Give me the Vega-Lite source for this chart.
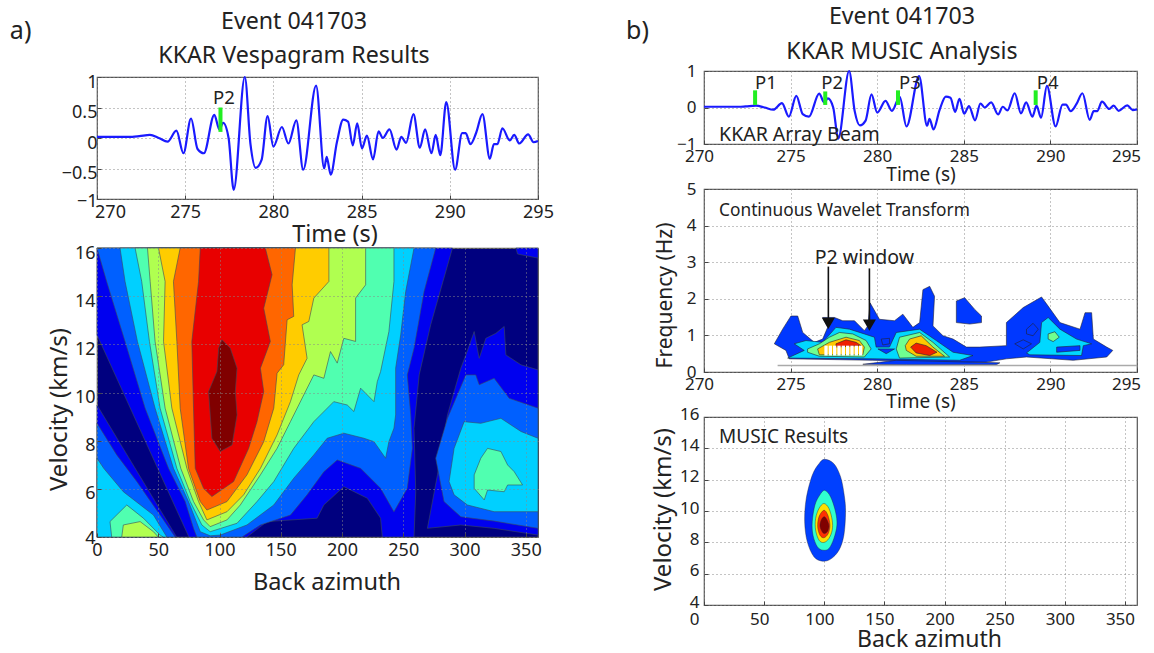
{"$schema":"https://vega.github.io/schema/vega-lite/v6.json","background":"white","padding":{"left":9,"top":4,"right":4,"bottom":4},
"config":{"font":"Noto Sans","view":{"stroke":"#555","strokeWidth":1.2},"title":{"font":"Noto Sans","fontWeight":"normal","color":"#222"},"axis":{"grid":true,"gridDash":[1,3],"gridColor":"#888","tickColor":"#444","tickSize":-4,"labelPadding":8,"domain":false,"labelFontSize":17,"labelColor":"#222","labelFont":"Noto Sans","titleFont":"Noto Sans","titleFontWeight":"normal","titleColor":"#222","labelOverlap":false,"labelBound":false,"labelFlush":false,"format":"~f"}},
"datasets":{
"beam":[{"i":0,"x":270,"y":0.02},{"i":1,"x":272,"y":0.02},{"i":2,"x":272.4,"y":0.03},{"i":3,"x":273,"y":0.05},{"i":4,"x":273.5,"y":0},{"i":5,"x":274,"y":-0.06},{"i":6,"x":274.5,"y":0.12},{"i":7,"x":274.9,"y":-0.25},{"i":8,"x":275.33,"y":0.32},{"i":9,"x":275.7,"y":-0.18},{"i":10,"x":276.06,"y":-0.25},{"i":11,"x":276.65,"y":0.38},{"i":12,"x":276.94,"y":0.14},{"i":13,"x":277.15,"y":0.25},{"i":14,"x":277.46,"y":0},{"i":15,"x":277.75,"y":-0.85},{"i":16,"x":278.38,"y":1},{"i":17,"x":278.7,"y":-0.1},{"i":18,"x":279,"y":-0.49},{"i":19,"x":279.33,"y":-0.36},{"i":20,"x":279.67,"y":0.36},{"i":21,"x":280,"y":-0.14},{"i":22,"x":280.48,"y":0.18},{"i":23,"x":280.85,"y":-0.09},{"i":24,"x":281.3,"y":0.29},{"i":25,"x":281.69,"y":-0.52},{"i":26,"x":282.42,"y":0.86},{"i":27,"x":282.88,"y":-0.5},{"i":28,"x":283.02,"y":-0.31},{"i":29,"x":283.25,"y":-0.6},{"i":30,"x":283.6,"y":-0.07},{"i":31,"x":283.96,"y":0.3},{"i":32,"x":284.23,"y":0.27},{"i":33,"x":284.5,"y":-0.12},{"i":34,"x":284.75,"y":0.24},{"i":35,"x":285.02,"y":-0.17},{"i":36,"x":285.3,"y":0.04},{"i":37,"x":285.65,"y":-0.35},{"i":38,"x":285.96,"y":0.11},{"i":39,"x":286.2,"y":0},{"i":40,"x":286.58,"y":0.14},{"i":41,"x":286.98,"y":-0.19},{"i":42,"x":287.25,"y":0.02},{"i":43,"x":287.52,"y":-0.08},{"i":44,"x":287.94,"y":0.39},{"i":45,"x":288.3,"y":-0.16},{"i":46,"x":288.6,"y":0.14},{"i":47,"x":288.96,"y":-0.25},{"i":48,"x":289.2,"y":0.05},{"i":49,"x":289.46,"y":-0.28},{"i":50,"x":289.8,"y":0.59},{"i":51,"x":290.3,"y":-0.52},{"i":52,"x":290.7,"y":0.08},{"i":53,"x":290.9,"y":0.08},{"i":54,"x":291.17,"y":-0.1},{"i":55,"x":291.5,"y":0.09},{"i":56,"x":291.85,"y":0.39},{"i":57,"x":292.27,"y":-0.34},{"i":58,"x":292.5,"y":-0.1},{"i":59,"x":292.7,"y":-0.1},{"i":60,"x":292.98,"y":0.16},{"i":61,"x":293.4,"y":-0.04},{"i":62,"x":293.65,"y":0.05},{"i":63,"x":293.94,"y":-0.09},{"i":64,"x":294.44,"y":0.06},{"i":65,"x":294.75,"y":-0.07},{"i":66,"x":295,"y":-0.05}],
"vesp":[
{"p":"b1","l":"1","i":0,"x":0,"y":16},{"p":"b1","l":"1","i":1,"x":0,"y":12.39},{"p":"b1","l":"1","i":2,"x":75,"y":4},{"p":"b1","l":"1","i":3,"x":122.4,"y":4},{"p":"b1","l":"1","i":4,"x":138.8,"y":4.64},{"p":"b1","l":"1","i":5,"x":179.7,"y":4.78},{"p":"b1","l":"1","i":6,"x":185.2,"y":5.33},{"p":"b1","l":"1","i":7,"x":201.5,"y":6.09},{"p":"b1","l":"1","i":8,"x":220.6,"y":5.61},{"p":"b1","l":"1","i":9,"x":231.5,"y":4.78},{"p":"b1","l":"1","i":10,"x":232.9,"y":4},{"p":"b1","l":"1","i":11,"x":258.8,"y":4},{"p":"b1","l":"1","i":12,"x":260.2,"y":5.88},{"p":"b1","l":"1","i":13,"x":258.8,"y":8.52},{"p":"b1","l":"1","i":14,"x":263,"y":10.73},{"p":"b1","l":"1","i":15,"x":272.4,"y":12.81},{"p":"b1","l":"1","i":16,"x":290.2,"y":16},
{"p":"b2","l":"1","i":0,"x":269.7,"y":4.36},{"p":"b2","l":"1","i":1,"x":277.9,"y":6.58},{"p":"b2","l":"1","i":2,"x":286.1,"y":9.07},{"p":"b2","l":"1","i":3,"x":297,"y":11.01},{"p":"b2","l":"1","i":4,"x":301.1,"y":11.56},{"p":"b2","l":"1","i":5,"x":307.9,"y":12.53},{"p":"b2","l":"1","i":6,"x":312,"y":11.42},{"p":"b2","l":"1","i":7,"x":317.4,"y":12.25},{"p":"b2","l":"1","i":8,"x":325.6,"y":12.46},{"p":"b2","l":"1","i":9,"x":332.4,"y":12.74},{"p":"b2","l":"1","i":10,"x":333.8,"y":11.56},{"p":"b2","l":"1","i":11,"x":346.1,"y":11.15},{"p":"b2","l":"1","i":12,"x":360,"y":10.94},{"p":"b2","l":"1","i":13,"x":360,"y":4.08},{"p":"b2","l":"1","i":14,"x":324.2,"y":4.36},{"p":"b2","l":"1","i":15,"x":297,"y":4.5},
{"p":"b3","l":"1","i":0,"x":342,"y":16},{"p":"b3","l":"1","i":1,"x":360,"y":16},{"p":"b3","l":"1","i":2,"x":360,"y":15.58},{"p":"b3","l":"1","i":3,"x":343.3,"y":15.75},
{"p":"b4","l":"1","i":0,"x":0,"y":9.48},{"p":"b4","l":"1","i":1,"x":65,"y":4},{"p":"b4","l":"1","i":2,"x":0,"y":4},
{"p":"a1","l":"2","i":0,"x":0,"y":16},{"p":"a1","l":"2","i":1,"x":7.9,"y":14.61},{"p":"a1","l":"2","i":2,"x":22.9,"y":12.12},{"p":"a1","l":"2","i":3,"x":39.3,"y":9.35},{"p":"a1","l":"2","i":4,"x":58.4,"y":6.85},{"p":"a1","l":"2","i":5,"x":72,"y":5.47},{"p":"a1","l":"2","i":6,"x":78.8,"y":4.36},{"p":"a1","l":"2","i":7,"x":81.5,"y":4},{"p":"a1","l":"2","i":8,"x":118.4,"y":4},{"p":"a1","l":"2","i":9,"x":133.4,"y":4.5},{"p":"a1","l":"2","i":10,"x":157.9,"y":4.91},{"p":"a1","l":"2","i":11,"x":171.5,"y":5.75},{"p":"a1","l":"2","i":12,"x":185.2,"y":6.71},{"p":"a1","l":"2","i":13,"x":196.1,"y":7.2},{"p":"a1","l":"2","i":14,"x":215.2,"y":6.85},{"p":"a1","l":"2","i":15,"x":231.5,"y":6.02},{"p":"a1","l":"2","i":16,"x":242.4,"y":5.05},{"p":"a1","l":"2","i":17,"x":253.3,"y":6.02},{"p":"a1","l":"2","i":18,"x":257.4,"y":7.68},{"p":"a1","l":"2","i":19,"x":256.1,"y":9.07},{"p":"a1","l":"2","i":20,"x":253.3,"y":10.73},{"p":"a1","l":"2","i":21,"x":258.8,"y":11.84},{"p":"a1","l":"2","i":22,"x":267,"y":14.19},{"p":"a1","l":"2","i":23,"x":276.5,"y":16},
{"p":"a2","l":"2","i":0,"x":0,"y":8.72},{"p":"a2","l":"2","i":1,"x":16.1,"y":7.41},{"p":"a2","l":"2","i":2,"x":32.5,"y":6.3},{"p":"a2","l":"2","i":3,"x":51.5,"y":4.91},{"p":"a2","l":"2","i":4,"x":63.8,"y":4},{"p":"a2","l":"2","i":5,"x":0,"y":4},
{"p":"a3","l":"2","i":0,"x":276.5,"y":7.27},{"p":"a3","l":"2","i":1,"x":286.1,"y":8.93},{"p":"a3","l":"2","i":2,"x":301.1,"y":10.73},{"p":"a3","l":"2","i":3,"x":309.2,"y":10.73},{"p":"a3","l":"2","i":4,"x":312,"y":10.32},{"p":"a3","l":"2","i":5,"x":324.2,"y":10.59},{"p":"a3","l":"2","i":6,"x":336.5,"y":9.76},{"p":"a3","l":"2","i":7,"x":360,"y":9.35},{"p":"a3","l":"2","i":8,"x":360,"y":4.36},{"p":"a3","l":"2","i":9,"x":324.2,"y":4.66},{"p":"a3","l":"2","i":10,"x":297,"y":4.84},{"p":"a3","l":"2","i":11,"x":283.3,"y":5.47},
{"p":"c1","l":"3","i":0,"x":18.8,"y":16},{"p":"c1","l":"3","i":1,"x":22.9,"y":14.61},{"p":"c1","l":"3","i":2,"x":33,"y":12.12},{"p":"c1","l":"3","i":3,"x":47.4,"y":9.35},{"p":"c1","l":"3","i":4,"x":62.4,"y":6.85},{"p":"c1","l":"3","i":5,"x":74.7,"y":5.47},{"p":"c1","l":"3","i":6,"x":84.3,"y":4.22},{"p":"c1","l":"3","i":7,"x":92.4,"y":4.05},{"p":"c1","l":"3","i":8,"x":100.6,"y":4.08},{"p":"c1","l":"3","i":9,"x":122.4,"y":4.5},{"p":"c1","l":"3","i":10,"x":144.3,"y":5.33},{"p":"c1","l":"3","i":11,"x":160.6,"y":6.44},{"p":"c1","l":"3","i":12,"x":177,"y":7.41},{"p":"c1","l":"3","i":13,"x":187.9,"y":8.1},{"p":"c1","l":"3","i":14,"x":201.5,"y":8.31},{"p":"c1","l":"3","i":15,"x":217.9,"y":8.1},{"p":"c1","l":"3","i":16,"x":226.1,"y":7.96},{"p":"c1","l":"3","i":17,"x":235.6,"y":7.27},{"p":"c1","l":"3","i":18,"x":238.3,"y":7.96},{"p":"c1","l":"3","i":19,"x":242.4,"y":8.52},{"p":"c1","l":"3","i":20,"x":243.8,"y":9.07},{"p":"c1","l":"3","i":21,"x":243.8,"y":11.01},{"p":"c1","l":"3","i":22,"x":247.9,"y":12.39},{"p":"c1","l":"3","i":23,"x":252,"y":14.19},{"p":"c1","l":"3","i":24,"x":258.8,"y":16},
{"p":"c2","l":"3","i":0,"x":0,"y":7.27},{"p":"c2","l":"3","i":1,"x":5.5,"y":6.85},{"p":"c2","l":"3","i":2,"x":21.5,"y":5.88},{"p":"c2","l":"3","i":3,"x":46.1,"y":4.91},{"p":"c2","l":"3","i":4,"x":57,"y":4},{"p":"c2","l":"3","i":5,"x":0,"y":4},
{"p":"c3","l":"3","i":0,"x":287.4,"y":6.3},{"p":"c3","l":"3","i":1,"x":291.5,"y":7.68},{"p":"c3","l":"3","i":2,"x":299.7,"y":8.79},{"p":"c3","l":"3","i":3,"x":313.3,"y":8.72},{"p":"c3","l":"3","i":4,"x":329.7,"y":8.93},{"p":"c3","l":"3","i":5,"x":346.1,"y":8.38},{"p":"c3","l":"3","i":6,"x":360,"y":8.1},{"p":"c3","l":"3","i":7,"x":360,"y":5.05},{"p":"c3","l":"3","i":8,"x":324.2,"y":5.05},{"p":"c3","l":"3","i":9,"x":302.4,"y":5.33},{"p":"c3","l":"3","i":10,"x":291.5,"y":5.75},
{"p":"q1","l":"4","i":0,"x":31.1,"y":16},{"p":"q1","l":"4","i":1,"x":36.5,"y":14.61},{"p":"q1","l":"4","i":2,"x":42.8,"y":12.12},{"p":"q1","l":"4","i":3,"x":51.5,"y":9.35},{"p":"q1","l":"4","i":4,"x":65.2,"y":6.85},{"p":"q1","l":"4","i":5,"x":76.1,"y":5.47},{"p":"q1","l":"4","i":6,"x":85.6,"y":4.5},{"p":"q1","l":"4","i":7,"x":92.4,"y":4.22},{"p":"q1","l":"4","i":8,"x":114.3,"y":4.57},{"p":"q1","l":"4","i":9,"x":130.6,"y":5.47},{"p":"q1","l":"4","i":10,"x":144.3,"y":6.3},{"p":"q1","l":"4","i":11,"x":160.6,"y":7.68},{"p":"q1","l":"4","i":12,"x":177,"y":8.79},{"p":"q1","l":"4","i":13,"x":193.3,"y":9.62},{"p":"q1","l":"4","i":14,"x":204.3,"y":9.48},{"p":"q1","l":"4","i":15,"x":209.7,"y":9.21},{"p":"q1","l":"4","i":16,"x":215.2,"y":10.18},{"p":"q1","l":"4","i":17,"x":226.1,"y":9.62},{"p":"q1","l":"4","i":18,"x":228.8,"y":10.45},{"p":"q1","l":"4","i":19,"x":231.5,"y":10.87},{"p":"q1","l":"4","i":20,"x":238.3,"y":12.53},{"p":"q1","l":"4","i":21,"x":242.4,"y":14.61},{"p":"q1","l":"4","i":22,"x":242.4,"y":16},
{"p":"q2","l":"4","i":0,"x":10.6,"y":4.64},{"p":"q2","l":"4","i":1,"x":24.3,"y":5.33},{"p":"q2","l":"4","i":2,"x":37.9,"y":4.78},{"p":"q2","l":"4","i":3,"x":51.5,"y":4.08},{"p":"q2","l":"4","i":4,"x":54,"y":4},{"p":"q2","l":"4","i":5,"x":12,"y":4},
{"p":"q3","l":"4","i":0,"x":307.9,"y":6.58},{"p":"q3","l":"4","i":1,"x":313.3,"y":7.27},{"p":"q3","l":"4","i":2,"x":318.8,"y":7.68},{"p":"q3","l":"4","i":3,"x":329.7,"y":7.55},{"p":"q3","l":"4","i":4,"x":335.2,"y":6.99},{"p":"q3","l":"4","i":5,"x":340.6,"y":6.71},{"p":"q3","l":"4","i":6,"x":347.4,"y":6.16},{"p":"q3","l":"4","i":7,"x":335.2,"y":6.16},{"p":"q3","l":"4","i":8,"x":332.4,"y":5.88},{"p":"q3","l":"4","i":9,"x":318.8,"y":5.95},{"p":"q3","l":"4","i":10,"x":316.1,"y":5.54},{"p":"q3","l":"4","i":11,"x":307.9,"y":6.02},
{"p":"g1","l":"5","i":0,"x":41.2,"y":16},{"p":"g1","l":"5","i":1,"x":43.4,"y":14.61},{"p":"g1","l":"5","i":2,"x":47.4,"y":12.12},{"p":"g1","l":"5","i":3,"x":55.6,"y":9.35},{"p":"g1","l":"5","i":4,"x":68.4,"y":6.85},{"p":"g1","l":"5","i":5,"x":78.8,"y":5.47},{"p":"g1","l":"5","i":6,"x":87,"y":4.71},{"p":"g1","l":"5","i":7,"x":92.4,"y":4.43},{"p":"g1","l":"5","i":8,"x":106.1,"y":4.71},{"p":"g1","l":"5","i":9,"x":117,"y":5.33},{"p":"g1","l":"5","i":10,"x":133.4,"y":6.58},{"p":"g1","l":"5","i":11,"x":147,"y":7.68},{"p":"g1","l":"5","i":12,"x":157.9,"y":8.79},{"p":"g1","l":"5","i":13,"x":168.8,"y":9.9},{"p":"g1","l":"5","i":14,"x":177,"y":10.73},{"p":"g1","l":"5","i":15,"x":185.2,"y":10.59},{"p":"g1","l":"5","i":16,"x":190.6,"y":11.7},{"p":"g1","l":"5","i":17,"x":196.1,"y":11.22},{"p":"g1","l":"5","i":18,"x":201.5,"y":12.25},{"p":"g1","l":"5","i":19,"x":211.1,"y":12.12},{"p":"g1","l":"5","i":20,"x":211.1,"y":13.92},{"p":"g1","l":"5","i":21,"x":219.3,"y":14.47},{"p":"g1","l":"5","i":22,"x":219.3,"y":16},
{"p":"g2","l":"5","i":0,"x":20.2,"y":4},{"p":"g2","l":"5","i":1,"x":21.5,"y":4.5},{"p":"g2","l":"5","i":2,"x":35.2,"y":4.64},{"p":"g2","l":"5","i":3,"x":46.1,"y":4.22},{"p":"g2","l":"5","i":4,"x":50,"y":4},
{"p":"y1","l":"6","i":0,"x":50.2,"y":16},{"p":"y1","l":"6","i":1,"x":55.6,"y":14.61},{"p":"y1","l":"6","i":2,"x":54.3,"y":12.12},{"p":"y1","l":"6","i":3,"x":61.1,"y":9.35},{"p":"y1","l":"6","i":4,"x":73.4,"y":6.85},{"p":"y1","l":"6","i":5,"x":82.9,"y":5.47},{"p":"y1","l":"6","i":6,"x":89.7,"y":4.71},{"p":"y1","l":"6","i":7,"x":106.1,"y":5.05},{"p":"y1","l":"6","i":8,"x":119.7,"y":5.75},{"p":"y1","l":"6","i":9,"x":133.4,"y":6.85},{"p":"y1","l":"6","i":10,"x":147,"y":8.24},{"p":"y1","l":"6","i":11,"x":157.9,"y":9.62},{"p":"y1","l":"6","i":12,"x":164.7,"y":10.73},{"p":"y1","l":"6","i":13,"x":171.5,"y":11.42},{"p":"y1","l":"6","i":14,"x":167.4,"y":12.81},{"p":"y1","l":"6","i":15,"x":172.9,"y":12.95},{"p":"y1","l":"6","i":16,"x":177,"y":13.92},{"p":"y1","l":"6","i":17,"x":189.3,"y":14.61},{"p":"y1","l":"6","i":18,"x":189.3,"y":16},
{"p":"o1","l":"7","i":0,"x":67.9,"y":16},{"p":"o1","l":"7","i":1,"x":62.4,"y":14.61},{"p":"o1","l":"7","i":2,"x":65.2,"y":12.12},{"p":"o1","l":"7","i":3,"x":67.9,"y":9.35},{"p":"o1","l":"7","i":4,"x":74.7,"y":6.85},{"p":"o1","l":"7","i":5,"x":84.3,"y":5.47},{"p":"o1","l":"7","i":6,"x":89.7,"y":5.12},{"p":"o1","l":"7","i":7,"x":106.1,"y":5.47},{"p":"o1","l":"7","i":8,"x":122.4,"y":6.58},{"p":"o1","l":"7","i":9,"x":136.1,"y":7.96},{"p":"o1","l":"7","i":10,"x":144.3,"y":9.35},{"p":"o1","l":"7","i":11,"x":147,"y":10.8},{"p":"o1","l":"7","i":12,"x":152.4,"y":11.15},{"p":"o1","l":"7","i":13,"x":155.2,"y":13.02},{"p":"o1","l":"7","i":14,"x":160.6,"y":13.16},{"p":"o1","l":"7","i":15,"x":159.3,"y":14.47},{"p":"o1","l":"7","i":16,"x":162,"y":16},
{"p":"r1","l":"8","i":0,"x":84.3,"y":16},{"p":"r1","l":"8","i":1,"x":82.9,"y":14.61},{"p":"r1","l":"8","i":2,"x":77.4,"y":12.12},{"p":"r1","l":"8","i":3,"x":78.8,"y":9.35},{"p":"r1","l":"8","i":4,"x":80.2,"y":6.85},{"p":"r1","l":"8","i":5,"x":87,"y":6.02},{"p":"r1","l":"8","i":6,"x":93.8,"y":5.68},{"p":"r1","l":"8","i":7,"x":111.5,"y":6.3},{"p":"r1","l":"8","i":8,"x":123.8,"y":7.68},{"p":"r1","l":"8","i":9,"x":130.6,"y":8.79},{"p":"r1","l":"8","i":10,"x":136.1,"y":10.04},{"p":"r1","l":"8","i":11,"x":133.4,"y":11.01},{"p":"r1","l":"8","i":12,"x":141.5,"y":12.12},{"p":"r1","l":"8","i":13,"x":136.1,"y":13.5},{"p":"r1","l":"8","i":14,"x":142.9,"y":14.89},{"p":"r1","l":"8","i":15,"x":137.4,"y":16},
{"p":"d1","l":"9","i":0,"x":102,"y":12.19},{"p":"d1","l":"9","i":1,"x":108.8,"y":11.84},{"p":"d1","l":"9","i":2,"x":114.3,"y":11.01},{"p":"d1","l":"9","i":3,"x":112.9,"y":10.04},{"p":"d1","l":"9","i":4,"x":114.3,"y":9.07},{"p":"d1","l":"9","i":5,"x":110.2,"y":7.82},{"p":"d1","l":"9","i":6,"x":100.6,"y":7.55},{"p":"d1","l":"9","i":7,"x":93.8,"y":8.1},{"p":"d1","l":"9","i":8,"x":91.1,"y":10.04},{"p":"d1","l":"9","i":9,"x":97.9,"y":10.87},{"p":"d1","l":"9","i":10,"x":99.3,"y":11.84}],
"wave":[
{"p":"b1","l":"1","i":0,"x":274.06,"y":0.77},{"p":"b1","l":"1","i":1,"x":274.54,"y":1.17},{"p":"b1","l":"1","i":2,"x":275.02,"y":1.53},{"p":"b1","l":"1","i":3,"x":275.41,"y":1.53},{"p":"b1","l":"1","i":4,"x":275.7,"y":1.08},{"p":"b1","l":"1","i":5,"x":276.37,"y":0.81},{"p":"b1","l":"1","i":6,"x":276.85,"y":0.9},{"p":"b1","l":"1","i":7,"x":277.14,"y":1.22},{"p":"b1","l":"1","i":8,"x":276.85,"y":1.49},{"p":"b1","l":"1","i":9,"x":277.53,"y":1.49},{"p":"b1","l":"1","i":10,"x":278.01,"y":1.4},{"p":"b1","l":"1","i":11,"x":278.69,"y":1.4},{"p":"b1","l":"1","i":12,"x":279.26,"y":1.13},{"p":"b1","l":"1","i":13,"x":279.46,"y":1.26},{"p":"b1","l":"1","i":14,"x":279.59,"y":1.89},{"p":"b1","l":"1","i":15,"x":280.13,"y":1.44},{"p":"b1","l":"1","i":16,"x":281,"y":1.4},{"p":"b1","l":"1","i":17,"x":281.48,"y":1.58},{"p":"b1","l":"1","i":18,"x":282.06,"y":1.22},{"p":"b1","l":"1","i":19,"x":282.45,"y":1.35},{"p":"b1","l":"1","i":20,"x":282.64,"y":2.25},{"p":"b1","l":"1","i":21,"x":283.03,"y":2.34},{"p":"b1","l":"1","i":22,"x":283.31,"y":2.07},{"p":"b1","l":"1","i":23,"x":283.22,"y":1.26},{"p":"b1","l":"1","i":24,"x":283.8,"y":0.99},{"p":"b1","l":"1","i":25,"x":284.38,"y":0.9},{"p":"b1","l":"1","i":26,"x":285.15,"y":0.68},{"p":"b1","l":"1","i":27,"x":285.92,"y":0.68},{"p":"b1","l":"1","i":28,"x":287.46,"y":0.72},{"p":"b1","l":"1","i":29,"x":287.46,"y":1.35},{"p":"b1","l":"1","i":30,"x":288.43,"y":1.76},{"p":"b1","l":"1","i":31,"x":289.49,"y":2.05},{"p":"b1","l":"1","i":32,"x":289.87,"y":1.8},{"p":"b1","l":"1","i":33,"x":290.55,"y":1.35},{"p":"b1","l":"1","i":34,"x":291.71,"y":1.17},{"p":"b1","l":"1","i":35,"x":292,"y":1.62},{"p":"b1","l":"1","i":36,"x":292.38,"y":1.62},{"p":"b1","l":"1","i":37,"x":292.48,"y":0.9},{"p":"b1","l":"1","i":38,"x":293.25,"y":0.68},{"p":"b1","l":"1","i":39,"x":293.6,"y":0.59},{"p":"b1","l":"1","i":40,"x":293.25,"y":0.41},{"p":"b1","l":"1","i":41,"x":291.32,"y":0.32},{"p":"b1","l":"1","i":42,"x":288.62,"y":0.41},{"p":"b1","l":"1","i":43,"x":287.46,"y":0.36},{"p":"b1","l":"1","i":44,"x":286.3,"y":0.27},{"p":"b1","l":"1","i":45,"x":283.6,"y":0.27},{"p":"b1","l":"1","i":46,"x":279.75,"y":0.32},{"p":"b1","l":"1","i":47,"x":274.92,"y":0.36},{"p":"b1","l":"1","i":48,"x":274.73,"y":0.59},
{"p":"b2","l":"1","i":0,"x":284.57,"y":1.94},{"p":"b2","l":"1","i":1,"x":285.05,"y":2.03},{"p":"b2","l":"1","i":2,"x":285.63,"y":1.71},{"p":"b2","l":"1","i":3,"x":286.02,"y":1.53},{"p":"b2","l":"1","i":4,"x":286.02,"y":1.35},{"p":"b2","l":"1","i":5,"x":285.34,"y":1.31},{"p":"b2","l":"1","i":6,"x":284.57,"y":1.35},
{"p":"b3","l":"1","i":0,"x":279.17,"y":0.21},{"p":"b3","l":"1","i":1,"x":281.1,"y":0.32},{"p":"b3","l":"1","i":2,"x":287.08,"y":0.25},{"p":"b3","l":"1","i":3,"x":286.88,"y":0.2},{"p":"b3","l":"1","i":4,"x":281.68,"y":0.2},
{"p":"b4","l":"1","i":0,"x":288.62,"y":1.17},{"p":"b4","l":"1","i":1,"x":289,"y":1.33},{"p":"b4","l":"1","i":2,"x":289.3,"y":1.17},{"p":"b4","l":"1","i":3,"x":289,"y":0.99},{"p":"b4","l":"1","i":4,"x":288.62,"y":1.04},
{"p":"b5","l":"1","i":0,"x":287.94,"y":0.77},{"p":"b5","l":"1","i":1,"x":288.43,"y":0.88},{"p":"b5","l":"1","i":2,"x":288.91,"y":0.77},{"p":"b5","l":"1","i":3,"x":288.43,"y":0.63},
{"p":"c1","l":"2","i":0,"x":275.21,"y":0.77},{"p":"c1","l":"2","i":1,"x":275.89,"y":0.86},{"p":"c1","l":"2","i":2,"x":276.85,"y":0.81},{"p":"c1","l":"2","i":3,"x":277.62,"y":1.22},{"p":"c1","l":"2","i":4,"x":278.4,"y":1.17},{"p":"c1","l":"2","i":5,"x":279.26,"y":1.04},{"p":"c1","l":"2","i":6,"x":279.84,"y":0.95},{"p":"c1","l":"2","i":7,"x":279.94,"y":0.68},{"p":"c1","l":"2","i":8,"x":280.71,"y":0.68},{"p":"c1","l":"2","i":9,"x":281.1,"y":1.08},{"p":"c1","l":"2","i":10,"x":282.45,"y":1.17},{"p":"c1","l":"2","i":11,"x":283.41,"y":0.86},{"p":"c1","l":"2","i":12,"x":284.38,"y":0.54},{"p":"c1","l":"2","i":13,"x":285.53,"y":0.45},{"p":"c1","l":"2","i":14,"x":284.76,"y":0.32},{"p":"c1","l":"2","i":15,"x":279.75,"y":0.36},{"p":"c1","l":"2","i":16,"x":274.83,"y":0.38},{"p":"c1","l":"2","i":17,"x":275.79,"y":0.59},
{"p":"c2","l":"2","i":0,"x":289.49,"y":1.35},{"p":"c2","l":"2","i":1,"x":289.87,"y":1.49},{"p":"c2","l":"2","i":2,"x":290.55,"y":1.17},{"p":"c2","l":"2","i":3,"x":291.51,"y":0.9},{"p":"c2","l":"2","i":4,"x":292.38,"y":0.77},{"p":"c2","l":"2","i":5,"x":291.9,"y":0.72},{"p":"c2","l":"2","i":6,"x":291.8,"y":0.45},{"p":"c2","l":"2","i":7,"x":288.81,"y":0.47},{"p":"c2","l":"2","i":8,"x":288.62,"y":0.52},{"p":"c2","l":"2","i":9,"x":289.39,"y":0.81},
{"p":"b6","l":"1","i":0,"x":280.04,"y":0.63},{"p":"b6","l":"1","i":1,"x":281,"y":0.63},{"p":"b6","l":"1","i":2,"x":280.52,"y":0.5},
{"p":"b7","l":"1","i":0,"x":280.23,"y":0.9},{"p":"b7","l":"1","i":1,"x":280.71,"y":0.92},{"p":"b7","l":"1","i":2,"x":280.71,"y":0.77},{"p":"b7","l":"1","i":3,"x":280.32,"y":0.74},
{"p":"b8","l":"1","i":0,"x":290.36,"y":0.68},{"p":"b8","l":"1","i":1,"x":291.71,"y":0.72},{"p":"b8","l":"1","i":2,"x":291.71,"y":0.59},{"p":"b8","l":"1","i":3,"x":290.36,"y":0.54},
{"p":"g1","l":"3","i":0,"x":275.98,"y":0.63},{"p":"g1","l":"3","i":1,"x":276.66,"y":0.77},{"p":"g1","l":"3","i":2,"x":277.24,"y":0.95},{"p":"g1","l":"3","i":3,"x":277.82,"y":1.08},{"p":"g1","l":"3","i":4,"x":278.59,"y":1.04},{"p":"g1","l":"3","i":5,"x":279.36,"y":0.86},{"p":"g1","l":"3","i":6,"x":279.65,"y":0.63},{"p":"g1","l":"3","i":7,"x":279.26,"y":0.41},{"p":"g1","l":"3","i":8,"x":276.66,"y":0.43},{"p":"g1","l":"3","i":9,"x":275.98,"y":0.54},
{"p":"g2","l":"3","i":0,"x":281.1,"y":0.63},{"p":"g2","l":"3","i":1,"x":281.29,"y":0.95},{"p":"g2","l":"3","i":2,"x":282.45,"y":1.08},{"p":"g2","l":"3","i":3,"x":283.22,"y":0.81},{"p":"g2","l":"3","i":4,"x":284.18,"y":0.41},{"p":"g2","l":"3","i":5,"x":281.29,"y":0.38},
{"p":"g3","l":"3","i":0,"x":289.87,"y":1.04},{"p":"g3","l":"3","i":1,"x":290.26,"y":1.1},{"p":"g3","l":"3","i":2,"x":290.51,"y":0.95},{"p":"g3","l":"3","i":3,"x":290.16,"y":0.83},{"p":"g3","l":"3","i":4,"x":289.87,"y":0.9},
{"p":"y1","l":"4","i":0,"x":276.56,"y":0.63},{"p":"y1","l":"4","i":1,"x":277.24,"y":0.81},{"p":"y1","l":"4","i":2,"x":278.2,"y":0.95},{"p":"y1","l":"4","i":3,"x":278.97,"y":0.86},{"p":"y1","l":"4","i":4,"x":279.26,"y":0.68},{"p":"y1","l":"4","i":5,"x":279.17,"y":0.47},{"p":"y1","l":"4","i":6,"x":276.66,"y":0.47},
{"p":"y2","l":"4","i":0,"x":281.62,"y":0.72},{"p":"y2","l":"4","i":1,"x":281.87,"y":0.9},{"p":"y2","l":"4","i":2,"x":282.54,"y":0.99},{"p":"y2","l":"4","i":3,"x":283.22,"y":0.68},{"p":"y2","l":"4","i":4,"x":283.89,"y":0.43},{"p":"y2","l":"4","i":5,"x":282.25,"y":0.43},{"p":"y2","l":"4","i":6,"x":281.68,"y":0.59},
{"p":"r1","l":"5","i":0,"x":277.62,"y":0.77},{"p":"r1","l":"5","i":1,"x":278.2,"y":0.88},{"p":"r1","l":"5","i":2,"x":278.78,"y":0.81},{"p":"r1","l":"5","i":3,"x":279.07,"y":0.72},{"p":"r1","l":"5","i":4,"x":277.62,"y":0.68},
{"p":"r2","l":"5","i":0,"x":281.93,"y":0.68},{"p":"r2","l":"5","i":1,"x":282.25,"y":0.79},{"p":"r2","l":"5","i":2,"x":282.83,"y":0.72},{"p":"r2","l":"5","i":3,"x":283.45,"y":0.54},{"p":"r2","l":"5","i":4,"x":283.03,"y":0.45},{"p":"r2","l":"5","i":5,"x":282.25,"y":0.52}],
"music":[
{"l":"1","i":0,"x":100.3,"y":13.3},{"l":"1","i":1,"x":108,"y":13.02},{"l":"1","i":2,"x":113.6,"y":12.17},{"l":"1","i":3,"x":116.6,"y":11},{"l":"1","i":4,"x":117.7,"y":9.94},{"l":"1","i":5,"x":116.3,"y":8.46},{"l":"1","i":6,"x":112.2,"y":7.5},{"l":"1","i":7,"x":105.3,"y":6.93},{"l":"1","i":8,"x":98.3,"y":6.8},{"l":"1","i":9,"x":91.4,"y":7.08},{"l":"1","i":10,"x":85.9,"y":8.03},{"l":"1","i":11,"x":83.7,"y":9.31},{"l":"1","i":12,"x":85,"y":10.79},{"l":"1","i":13,"x":90,"y":12.28},{"l":"1","i":14,"x":95.6,"y":13.02},
{"l":"2","i":0,"x":100.3,"y":11.32},{"l":"2","i":1,"x":105.3,"y":10.9},{"l":"2","i":2,"x":109.4,"y":9.94},{"l":"2","i":3,"x":110.5,"y":9.1},{"l":"2","i":4,"x":108,"y":8.25},{"l":"2","i":5,"x":103.9,"y":7.61},{"l":"2","i":6,"x":98.9,"y":7.5},{"l":"2","i":7,"x":94.2,"y":7.72},{"l":"2","i":8,"x":90.6,"y":8.46},{"l":"2","i":9,"x":90,"y":9.31},{"l":"2","i":10,"x":92.2,"y":10.37},{"l":"2","i":11,"x":96.1,"y":11},
{"l":"3","i":0,"x":99.7,"y":10.48},{"l":"3","i":1,"x":103.9,"y":10.16},{"l":"3","i":2,"x":106.6,"y":9.41},{"l":"3","i":3,"x":106.6,"y":8.78},{"l":"3","i":4,"x":103.9,"y":8.25},{"l":"3","i":5,"x":99.7,"y":7.99},{"l":"3","i":6,"x":95.6,"y":8.14},{"l":"3","i":7,"x":92.8,"y":8.78},{"l":"3","i":8,"x":92.8,"y":9.52},{"l":"3","i":9,"x":95.6,"y":10.16},
{"l":"4","i":0,"x":99.7,"y":10.05},{"l":"4","i":1,"x":103,"y":9.73},{"l":"4","i":2,"x":104.7,"y":9.1},{"l":"4","i":3,"x":103.3,"y":8.56},{"l":"4","i":4,"x":99.7,"y":8.29},{"l":"4","i":5,"x":96.4,"y":8.46},{"l":"4","i":6,"x":94.5,"y":8.99},{"l":"4","i":7,"x":95.6,"y":9.63},
{"l":"5","i":0,"x":100.3,"y":9.63},{"l":"5","i":1,"x":103,"y":9.31},{"l":"5","i":2,"x":103.9,"y":8.99},{"l":"5","i":3,"x":102.5,"y":8.67},{"l":"5","i":4,"x":99.7,"y":8.56},{"l":"5","i":5,"x":97.5,"y":8.78},{"l":"5","i":6,"x":96.4,"y":9.1},{"l":"5","i":7,"x":97.8,"y":9.48}]
},
"spacing":70,"resolve":{"scale":{"color":"independent"}},
"hconcat":[
{"bounds":"flush","spacing":49,"resolve":{"scale":{"color":"independent"}},"vconcat":[
{"width":441,"height":3,"view":{"stroke":null},"data":{"values":[{"a":0}]},"mark":{"type":"text","text":""},"encoding":{}},
{"width":441,"height":122,
"encoding":{"x":{"field":"x","type":"quantitative","scale":{"domain":[270,295],"nice":false,"zero":false},"axis":{"values":[270,275,280,285,290,295],"labelFontSize":18,"title":"Time (s)","titleFontSize":23.4,"titlePadding":2,"titleX":237.5,"labelOffset":{"condition":{"test":"datum.value==270","value":13},"value":0}}},"y":{"field":"y","type":"quantitative","scale":{"domain":[-1,1],"nice":false,"zero":false},"axis":{"values":[-1,-0.5,0,0.5,1],"labelFontSize":18,"labelPadding":4,"labelOffset":{"condition":{"test":"datum.value==-1","value":2},"value":5},"title":null}}},
"layer":[
{"data":{"name":"beam"},"mark":{"type":"line","interpolate":"monotone","color":"#1a1aff","strokeWidth":2.2},"encoding":{"order":{"field":"i"}}},
{"data":{"values":[{"x":277,"y":0.5,"y2":0.1}]},"mark":{"type":"rule","color":"#22ee22","strokeWidth":4},"encoding":{"y2":{"field":"y2"}}},
{"data":{"values":[{"x":277.19,"y":0.66,"label":"P2"}]},"mark":{"type":"text","fontSize":18.5,"color":"#222"},"encoding":{"text":{"field":"label"}}},
{"data":{"values":[{"x":265.06,"y":1.749,"label":"a)"}]},"mark":{"type":"text","fontSize":25,"color":"#222","align":"left"},"encoding":{"text":{"field":"label"}}},
{"data":{"values":[{"x":281.17,"y":1.897,"label":"Event 041703"},{"x":281.17,"y":1.339,"label":"KKAR Vespagram Results"}]},"mark":{"type":"text","fontSize":23.2,"color":"#222"},"encoding":{"text":{"field":"label"}}}
]},
{"width":441,"height":289,"view":{"fill":"#00007f"},
"encoding":{"x":{"field":"x","type":"quantitative","scale":{"domain":[0,360],"nice":false,"zero":false},"axis":{"values":[0,50,100,150,200,250,300,350],"labelFontSize":18,"title":"Back azimuth","titleFontSize":23.5,"titlePadding":11,"titleX":229.5,"zindex":1}},"y":{"field":"y","type":"quantitative","scale":{"domain":[4,16],"nice":false,"zero":false},"axis":{"values":[4,6,8,10,12,14,16],"labelFontSize":18,"labelPadding":6,"labelOffset":{"condition":{"test":"datum.value==4","value":1},"value":5},"title":"Velocity (km/s)","titleFontSize":24,"titlePadding":3,"titleY":161,"zindex":1}}},
"layer":[{"data":{"name":"vesp"},"mark":{"type":"line","filled":true,"interpolate":"linear-closed","stroke":"#3a4a5a","strokeWidth":0.6},"encoding":{"order":{"field":"i"},"detail":{"field":"p"},"color":{"field":"l","type":"nominal","legend":null,"scale":{"domain":["1","2","3","4","5","6","7","8","9"],"range":["#0000ef","#0060ff","#00d0ff","#50ffb0","#b0ff50","#ffcc00","#ff6600","#e80000","#800000"]}}}}]}
]},
{"bounds":"flush","spacing":45,"resolve":{"scale":{"color":"independent"}},"vconcat":[
{"width":433,"height":1,"view":{"stroke":null},"data":{"values":[{"a":0}]},"mark":{"type":"text","text":""},"encoding":{}},
{"width":433,"height":73,
"encoding":{"x":{"field":"x","type":"quantitative","scale":{"domain":[270,295],"nice":false,"zero":false},"axis":{"values":[270,275,280,285,290,295],"title":"Time (s)","titleFontSize":19,"titlePadding":1,"labelOffset":{"condition":[{"test":"datum.value==270","value":-5},{"test":"datum.value==295","value":-11}],"value":0}}},"y":{"field":"y","type":"quantitative","scale":{"domain":[-1,1],"nice":false,"zero":false},"axis":{"values":[-1,0,1],"labelPadding":12,"title":null}}},
"layer":[
{"data":{"name":"beam"},"mark":{"type":"line","interpolate":"monotone","color":"#1a1aff","strokeWidth":2.2},"encoding":{"order":{"field":"i"}}},
{"data":{"values":[{"x":272.95,"y":0.47,"y2":0.07},{"x":277,"y":0.44,"y2":0.07},{"x":281.2,"y":0.47,"y2":0.07},{"x":289.15,"y":0.47,"y2":0.07}]},"mark":{"type":"rule","color":"#22ee22","strokeWidth":4},"encoding":{"y2":{"field":"y2"}}},
{"data":{"values":[{"x":273.58,"y":0.66,"label":"P1"},{"x":277.4,"y":0.66,"label":"P2"},{"x":281.89,"y":0.66,"label":"P3"},{"x":289.84,"y":0.66,"label":"P4"}]},"mark":{"type":"text","fontSize":18.5,"color":"#222"},"encoding":{"text":{"field":"label"}}},
{"data":{"values":[{"x":270.87,"y":-0.75,"label":"KKAR Array Beam"}]},"mark":{"type":"text","fontSize":19.5,"color":"#222","align":"left"},"encoding":{"text":{"field":"label"}}},
{"data":{"values":[{"x":265.5,"y":2.104,"label":"b)"}]},"mark":{"type":"text","fontSize":25,"color":"#222","align":"left"},"encoding":{"text":{"field":"label"}}},
{"data":{"values":[{"x":281.43,"y":2.488,"label":"Event 041703"},{"x":281.43,"y":1.529,"label":"KKAR MUSIC Analysis"}]},"mark":{"type":"text","fontSize":23.2,"color":"#222"},"encoding":{"text":{"field":"label"}}}
]},
{"width":433,"height":183,
"encoding":{"x":{"field":"x","type":"quantitative","scale":{"domain":[270,295],"nice":false,"zero":false},"axis":{"values":[270,275,280,285,290,295],"title":"Time (s)","titleFontSize":19,"titlePadding":0,"labelOffset":{"condition":[{"test":"datum.value==270","value":-5},{"test":"datum.value==295","value":-11}],"value":0}}},"y":{"field":"y","type":"quantitative","scale":{"domain":[0,5],"nice":false,"zero":false},"axis":{"values":[0,1,2,3,4,5],"labelPadding":12,"title":"Frequency (Hz)","titleFontSize":21,"titlePadding":11,"titleY":106}}},
"layer":[
{"data":{"name":"wave"},"mark":{"type":"line","filled":true,"interpolate":"linear-closed","stroke":"#223","strokeWidth":0.6},"encoding":{"order":{"field":"i"},"detail":{"field":"p"},"color":{"field":"l","type":"nominal","legend":null,"scale":{"domain":["1","2","3","4","5"],"range":["#0038ff","#00d8ff","#70ff90","#ffc800","#f02000"]}}}},
{"data":{"values":[{"x":276.95,"x2":277.14,"y":0.72,"y2":0.45},{"x":277.2,"x2":277.39,"y":0.72,"y2":0.45},{"x":277.45,"x2":277.64,"y":0.72,"y2":0.45},{"x":277.7,"x2":277.89,"y":0.72,"y2":0.45},{"x":277.95,"x2":278.14,"y":0.72,"y2":0.45},{"x":278.2,"x2":278.39,"y":0.72,"y2":0.45},{"x":278.45,"x2":278.64,"y":0.72,"y2":0.45},{"x":278.7,"x2":278.89,"y":0.72,"y2":0.45},{"x":278.95,"x2":279.14,"y":0.72,"y2":0.45}]},"mark":{"type":"rect","color":"white"},"encoding":{"x2":{"field":"x2"},"y2":{"field":"y2"}}},
{"data":{"values":[{"x":274.25,"x2":295,"y":0.18}]},"mark":{"type":"rule","color":"#aaa","strokeWidth":1.5},"encoding":{"x2":{"field":"x2"}}},
{"data":{"values":[{"x":277.18,"y":2.88,"y2":1.3},{"x":279.55,"y":2.83,"y2":1.2}]},"mark":{"type":"rule","color":"#111","strokeWidth":1.6},"encoding":{"y2":{"field":"y2"}}},
{"data":{"values":[{"x":277.18,"y":1.33},{"x":279.55,"y":1.28}]},"mark":{"type":"point","shape":"triangle-down","filled":true,"size":170,"color":"#111","opacity":1}},
{"data":{"values":[{"x":279.26,"y":3.11,"label":"P2 window"}]},"mark":{"type":"text","fontSize":19.5,"color":"#222"},"encoding":{"text":{"field":"label"}}},
{"data":{"values":[{"x":270.87,"y":4.4,"label":"Continuous Wavelet Transform"}]},"mark":{"type":"text","fontSize":17.3,"color":"#222","align":"left"},"encoding":{"text":{"field":"label"}}}
]},
{"width":433,"height":188,
"encoding":{"x":{"field":"x","type":"quantitative","scale":{"domain":[0,360],"nice":false,"zero":false},"axis":{"values":[0,50,100,150,200,250,300,350],"labelPadding":10,"title":"Back azimuth","titleFontSize":23,"titlePadding":1,"titleX":225,"labelOffset":{"condition":{"test":"datum.value==0","value":-10},"value":-5}}},"y":{"field":"y","type":"quantitative","scale":{"domain":[4,16],"nice":false,"zero":false},"axis":{"values":[4,6,8,10,12,14,16],"labelPadding":9,"labelOffset":-3,"title":"Velocity (km/s)","titleFontSize":24,"titlePadding":4,"titleY":92}}},
"layer":[
{"data":{"name":"music"},"mark":{"type":"line","filled":true,"interpolate":"cardinal-closed","stroke":"#223","strokeWidth":0.4},"encoding":{"order":{"field":"i"},"color":{"field":"l","type":"nominal","legend":null,"scale":{"domain":["1","2","3","4","5"],"range":["#0040ff","#30ffd0","#ffe000","#ff3000","#800000"]}}}},
{"data":{"values":[{"x":12.5,"y":14.72,"label":"MUSIC Results"}]},"mark":{"type":"text","fontSize":19,"color":"#222","align":"left"},"encoding":{"text":{"field":"label"}}}
]}
]}
]}
